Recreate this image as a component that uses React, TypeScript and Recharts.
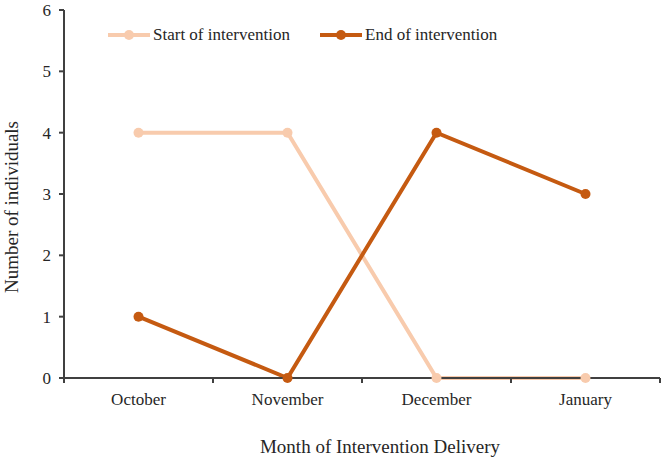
import React from "react"
import { LineChart, Line, XAxis, YAxis } from "recharts"

const months = ["October", "November", "December", "January"]
const startValues = [4, 4, 0, 0]
const endValues = [1, 0, 4, 3]
const yTicks = [0, 1, 2, 3, 4, 5, 6]

const START_COLOR = "#F8CBAD"
const END_COLOR = "#C55A11"
const AXIS_COLOR = "#404040"
const TEXT_COLOR = "#262626"
const FONT = "'Liberation Serif', 'Times New Roman', serif"

const WIDTH = 664
const HEIGHT = 458
const MARGIN = { top: 10, right: 4, left: 0, bottom: 0 }
const Y_AXIS_WIDTH = 64
const BAND = (WIDTH - MARGIN.left - MARGIN.right - Y_AXIS_WIDTH) / months.length

const data = months.map((month, i) => ({
  month,
  start: startValues[i],
  end: endValues[i],
}))

// month label plus the small divider ticks that sit between categories
const MonthTick = ({ x, y, payload, index }: any) => (
  <g>
    <line x1={x + BAND / 2} x2={x + BAND / 2} y1={y - 8} y2={y - 3} stroke={AXIS_COLOR} strokeWidth={2} />
    {index === 0 && (
      <line x1={x - BAND / 2} x2={x - BAND / 2} y1={y - 8} y2={y - 3} stroke={AXIS_COLOR} strokeWidth={2} />
    )}
    <text x={x} y={y + 19} textAnchor="middle" fill={TEXT_COLOR} fontSize={17} fontFamily={FONT}>
      {payload.value}
    </text>
  </g>
)

// rotated y-axis title, sitting a little below the plot's vertical centre
const YTitle = ({ viewBox }: any) => {
  const cx = 11
  const cy = viewBox.y + viewBox.height / 2 + 13
  return (
    <text
      x={cx}
      y={cy}
      transform={`rotate(-90, ${cx}, ${cy})`}
      textAnchor="middle"
      dominantBaseline="central"
      fill={TEXT_COLOR}
      fontSize={19}
      fontFamily={FONT}
    >
      Number of individuals
    </text>
  )
}

const legendItems = [
  { label: "Start of intervention", color: START_COLOR, left: 108 },
  { label: "End of intervention", color: END_COLOR, left: 320 },
]

function LegendOverlay() {
  return (
    <>
      {legendItems.map((item) => (
        <div
          key={item.label}
          style={{
            position: "absolute",
            left: item.left,
            top: 25,
            display: "flex",
            alignItems: "center",
            fontFamily: FONT,
            fontSize: 17,
            color: TEXT_COLOR,
            whiteSpace: "nowrap",
          }}
        >
          <svg width={43} height={12}>
            <line x1={0} x2={42} y1={6} y2={6} stroke={item.color} strokeWidth={4} />
            <circle cx={21} cy={6} r={5} fill={item.color} />
          </svg>
          <span style={{ marginLeft: 2 }}>{item.label}</span>
        </div>
      ))}
    </>
  )
}

export default function App() {
  return (
    <div style={{ position: "fixed", left: 0, top: 0, width: WIDTH, height: HEIGHT, background: "#fff" }}>
      <LineChart width={WIDTH} height={HEIGHT} data={data} margin={MARGIN}>
        <XAxis
          dataKey="month"
          height={80}
          padding={{ left: BAND / 2, right: BAND / 2 }}
          tick={<MonthTick />}
          tickLine={false}
          axisLine={{ stroke: AXIS_COLOR, strokeWidth: 2 }}
          interval={0}
          label={{
            value: "Month of Intervention Delivery",
            position: "insideBottom",
            offset: 5,
            dx: 18,
            fill: TEXT_COLOR,
            fontSize: 19,
            fontFamily: FONT,
          }}
        />
        <YAxis
          width={Y_AXIS_WIDTH}
          domain={[0, 6]}
          ticks={yTicks}
          interval={0}
          tickSize={5}
          tickMargin={8}
          tickLine={{ stroke: AXIS_COLOR, strokeWidth: 2 }}
          axisLine={{ stroke: AXIS_COLOR, strokeWidth: 2 }}
          tick={{ fill: TEXT_COLOR, fontSize: 17, fontFamily: FONT }}
          label={<YTitle />}
        />
        <Line
          dataKey="start"
          stroke={START_COLOR}
          strokeWidth={4}
          dot={{ r: 5, fill: START_COLOR, stroke: START_COLOR, strokeWidth: 0 }}
          activeDot={false}
          isAnimationActive={false}
        />
        <Line
          dataKey="end"
          stroke={END_COLOR}
          strokeWidth={4}
          dot={{ r: 5, fill: END_COLOR, stroke: END_COLOR, strokeWidth: 0 }}
          activeDot={false}
          isAnimationActive={false}
        />
      </LineChart>
      <LegendOverlay />
    </div>
  )
}
